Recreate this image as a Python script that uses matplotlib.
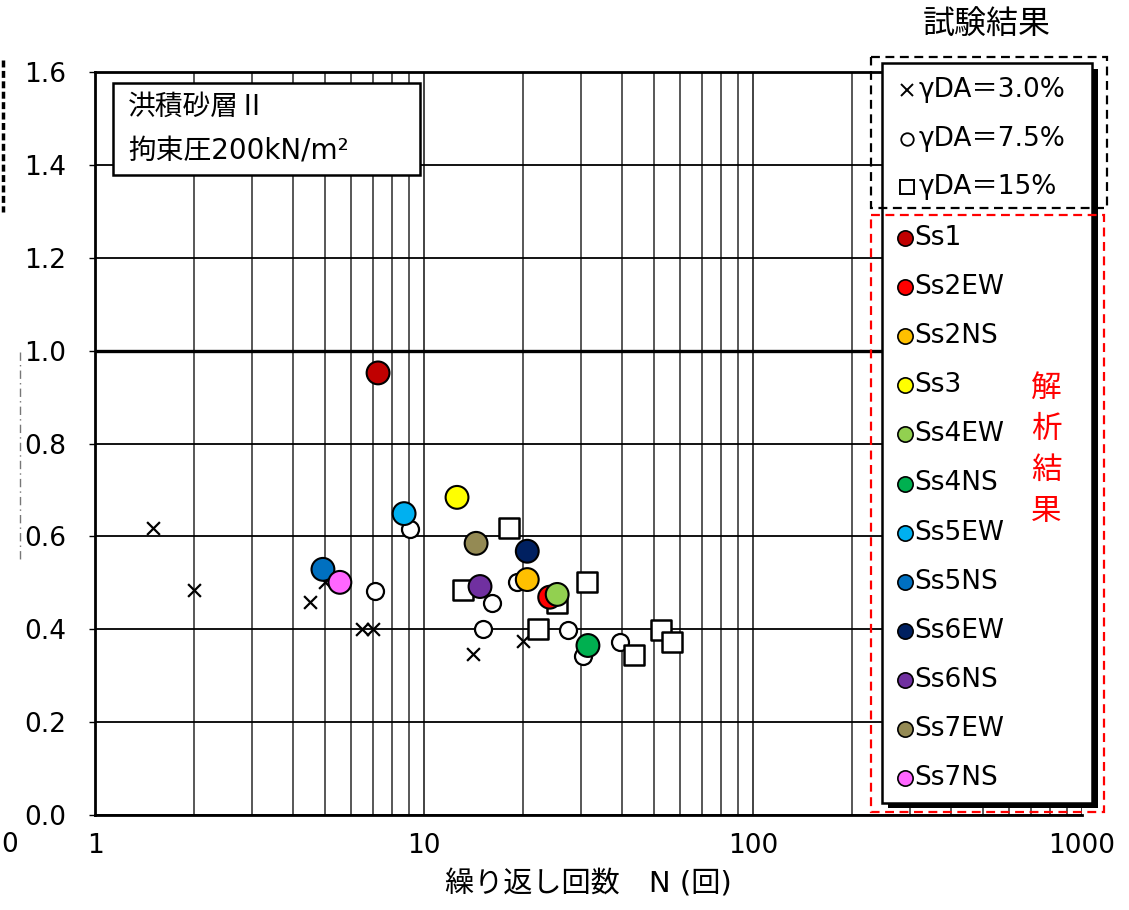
import numpy as np
import matplotlib
matplotlib.use("Agg")
import matplotlib.pyplot as plt
from matplotlib.patches import Rectangle
from matplotlib.lines import Line2D
from matplotlib.ticker import FixedLocator, LogLocator, NullFormatter, FuncFormatter

plt.rcParams['font.family'] = ['DejaVu Sans', 'Noto Sans CJK JP']

# ---------------- data ----------------
# test results (gamma DA = 3.0 %, 7.5 %, 15 %)
cross_n = [1.5, 2.0, 4.5, 5.0, 6.5, 7.0, 14.1, 20.0]
cross_r = [0.618, 0.484, 0.458, 0.501, 0.40, 0.40, 0.346, 0.374]
circ_n = [9.06, 7.1, 15.1, 16.1, 19.2, 27.4, 30.4, 39.4]
circ_r = [0.615, 0.482, 0.40, 0.456, 0.501, 0.398, 0.342, 0.372]
sq_n = [13.1, 18.1, 22.2, 25.4, 31.3, 43.5, 52.5, 56.7]
sq_r = [0.484, 0.617, 0.40, 0.456, 0.501, 0.344, 0.398, 0.372]

# analysis results
cases = ['Ss1', 'Ss2EW', 'Ss2NS', 'Ss3', 'Ss4EW', 'Ss4NS',
         'Ss5EW', 'Ss5NS', 'Ss6EW', 'Ss6NS', 'Ss7EW', 'Ss7NS']
case_n = [7.25, 24.1, 20.6, 12.6, 25.4, 31.5, 8.7, 4.93, 20.6, 14.8, 14.4, 5.55]
case_r = [0.952, 0.469, 0.507, 0.684, 0.475, 0.365, 0.649, 0.529, 0.568, 0.492, 0.585, 0.501]
case_colors = ['#C00000', '#FF0000', '#FFC000', '#FFFF00', '#92D050', '#00B050',
               '#00B0F0', '#0070C0', '#002060', '#7030A0', '#948A54', '#FF66FF']

test_labels = ['γDA＝3.0%', 'γDA＝7.5%', 'γDA＝15%']
x_ticks = [1, 10, 100, 1000]
x_ticklabels = ['1', '10', '100', '1000']
y_ticks = [0.0, 0.2, 0.4, 0.6, 0.8, 1.0, 1.2, 1.4, 1.6]

W, H = 1129, 910
fig = plt.figure(figsize=(W / 100, H / 100), dpi=100)

def fx(px):
    return px / W

def fy(py):
    return 1 - py / H

ax = fig.add_axes([fx(95), fy(815), fx(1082) - fx(95), fy(72) - fy(815)])
ax.set_xscale('log')
ax.set_xlim(1, 1000)
ax.set_ylim(0, 1.6)
ax.xaxis.set_major_locator(FixedLocator(x_ticks))
ax.set_xticklabels(x_ticklabels)
ax.xaxis.set_minor_locator(LogLocator(base=10, subs=np.arange(2, 10)))
ax.xaxis.set_minor_formatter(NullFormatter())
ax.set_yticks(y_ticks)
ax.yaxis.set_major_formatter(FuncFormatter(lambda v, p: f'{v:.1f}'))
ax.tick_params(axis='x', which='both', length=0, pad=13, labelsize=19)
ax.tick_params(axis='y', which='both', length=4, width=1, pad=17, labelsize=19)
ax.grid(which='major', axis='y', color='black', lw=1.3)
ax.grid(which='major', axis='x', color='#222222', lw=1.2)
ax.grid(which='minor', axis='x', color='#2a2a2a', lw=1.1)
ax.axhline(1.0, color='black', lw=2.4, zorder=1.5)
ax.set_axisbelow(True)
for s in ['left', 'bottom', 'top']:
    ax.spines[s].set_linewidth(2.0)
ax.spines['right'].set_visible(False)

ax.set_xlabel('繰り返し回数　N (回)', fontsize=21, labelpad=8)

ax.scatter(cross_n, cross_r, marker='x', s=85, c='black', linewidths=1.6, zorder=3)
ax.scatter(circ_n, circ_r, marker='o', s=150, facecolors='white', edgecolors='black',
           linewidths=1.6, zorder=3)
ax.scatter(sq_n, sq_r, marker='s', s=190, facecolors='white', edgecolors='black',
           linewidths=1.8, zorder=3)
ax.scatter(case_n, case_r, marker='o', s=270, c=case_colors, edgecolors='black',
           linewidths=1.5, zorder=4)

# ---------------- overlay (annotation box + legend) ----------------
lax = fig.add_axes([0, 0, 1, 1], zorder=10)
lax.set_xlim(0, W)
lax.set_ylim(H, 0)
lax.axis('off')
lax.patch.set_alpha(0)

# annotation box
lax.add_patch(Rectangle((113, 83), 420 - 113, 175 - 83, facecolor='white',
                        edgecolor='black', lw=1.8))
lax.text(128, 107, '洪積砂層Ⅱ', fontsize=20, va='center', ha='left',
         family=['Noto Sans CJK JP', 'DejaVu Sans'])
lax.text(128, 151, '拘束圧200kN/m²', fontsize=20, va='center', ha='left')

# shadow + box
lax.add_patch(Rectangle((888, 69), 1098 - 888, 808 - 69, facecolor='black', edgecolor='none'))
lax.add_patch(Rectangle((882, 63), 1092 - 882, 803 - 63, facecolor='white',
                        edgecolor='black', lw=1.8))
# dashed group boxes
lax.add_patch(Rectangle((871, 57), 1107 - 871, 208 - 57, facecolor='none',
                        edgecolor='black', lw=1.6, ls=(0, (4, 2.5))))
lax.add_patch(Rectangle((871, 215), 1104 - 871, 812 - 215, facecolor='none',
                        edgecolor='#FF0000', lw=1.6, ls=(0, (4, 2.5))))

lax.text(987, 25, '試験結果', fontsize=23, ha='center', va='center')

test_markers = [dict(marker='x', ms=8, mew=1.4, mfc='black', mec='black'),
                dict(marker='o', ms=9, mew=1.3, mfc='white', mec='black'),
                dict(marker='s', ms=10, mew=1.4, mfc='white', mec='black')]
for i, (lab, mk) in enumerate(zip(test_labels, test_markers)):
    yy = 90 + i * 48.5
    lax.add_line(Line2D([907], [yy], ls='none', **mk))
    lax.text(919, yy, lab, fontsize=19, ha='left', va='center')

for i, (lab, col) in enumerate(zip(cases, case_colors)):
    yy = 238 + i * 49.1
    lax.add_line(Line2D([905], [yy], ls='none', marker='o', ms=11, mfc=col,
                        mec='black', mew=1.2))
    lax.text(914, yy, lab, fontsize=19, ha='left', va='center')

for i, ch in enumerate('解析結果'):
    lax.text(1046, 388 + i * 41, ch, fontsize=22, color='#FF0000', ha='center', va='center')

# cropped fragments at left edge of the original image
lax.add_line(Line2D([3, 3], [60, 212], color='black', lw=2.5, ls=(0, (2, 1))))
lax.add_line(Line2D([20, 20], [352, 560], color='#777777', lw=1.0, ls=(0, (6, 3, 1, 3))))
lax.text(1, 845, '0', fontsize=19, ha='left', va='center')

fig.savefig('out.png', dpi=100)
